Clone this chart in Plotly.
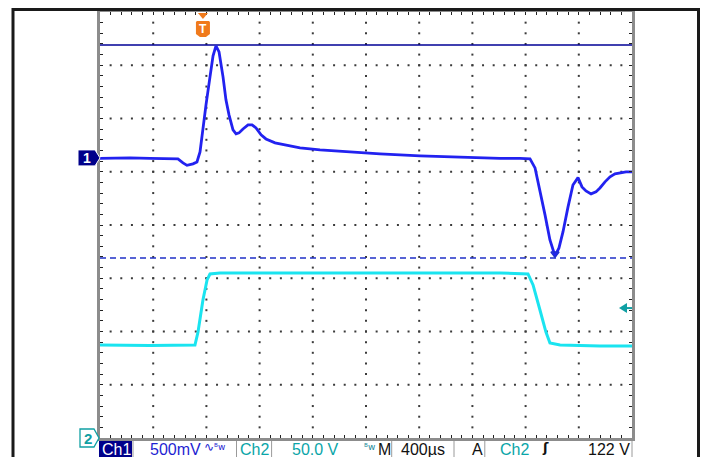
import plotly.graph_objects as go

# ---------------- figure / screen geometry ----------------
W, H = 702, 457
GX0, GX1, GY0, GY1 = 100, 632, 12, 438      # graticule box in pixels

# ---------------- scope settings ----------------
TIME_PER_DIV = 400.0      # µs / div
N_XDIV, N_YDIV = 10, 8
CH1_VDIV = 0.5            # V / div
CH2_VDIV = 50.0           # V / div
CH1_OFFSET_DIV = 1.26     # ch1 ground marker position (div)
CH2_OFFSET_DIV = -4.0     # ch2 ground marker position (div)
TRIG_TIME = 774.0         # µs from left edge
TRIG_LEVEL = 122.0        # V on ch2

# ---------------- data ----------------
ch1_time = [0, 226, 376, 526, 586, 624, 654, 699, 729, 752, 774, 797, 827, 850, 872,
            895, 925, 947, 970, 1000, 1023, 1045, 1075, 1113, 1143, 1173, 1211, 1248,
            1316, 1414, 1504, 1654, 1880, 2105, 2406, 2707, 3008, 3158, 3233, 3271,
            3308, 3346, 3383, 3421, 3451, 3481, 3519, 3556, 3594, 3624, 3654, 3692,
            3729, 3759, 3797, 3835, 3872, 3910, 3955, 4000]
ch1_volts = [-0.005, 0.0, -0.005, -0.005, -0.009, -0.047, -0.070, -0.056, -0.038, 0.056,
             0.282, 0.498, 0.761, 0.958, 1.052, 0.995, 0.761, 0.545, 0.404, 0.263,
             0.225, 0.235, 0.272, 0.310, 0.310, 0.282, 0.216, 0.178, 0.141, 0.113,
             0.094, 0.075, 0.056, 0.038, 0.019, 0.005, -0.005, -0.005, -0.009, -0.094,
             -0.300, -0.535, -0.770, -0.920, -0.845, -0.695, -0.460, -0.254, -0.185,
             -0.272, -0.310, -0.338, -0.319, -0.282, -0.225, -0.178, -0.150, -0.141,
             -0.131, -0.131]

ch2_time = [0, 376, 714, 737, 774, 805, 827, 902, 1504, 2256, 3008, 3218, 3256, 3308,
            3353, 3383, 3459, 3759, 4000]
ch2_volts = [87.3, 86.9, 87.3, 99.5, 129.6, 148.4, 154.0, 154.9, 154.9, 154.9, 154.9,
             154.0, 143.7, 120.2, 99.5, 89.2, 87.3, 86.4, 86.4]

cursor_volts = [1.06, -0.94]     # ch1 horizontal cursors (V)

status_items = [
    ("500mV", 149, "#1f1fd2"), ("Ch2", 238.5, "#0aa5a8"), ("50.0 V", 291, "#0aa5a8"),
    ("M", 377, "#111111"), ("400µs", 400, "#111111"), ("A", 471, "#111111"),
    ("Ch2", 499, "#0aa5a8"), ("122 V", 587, "#111111"),
]
separators = [133, 236.5, 271.6, 391.7, 454, 484.8, 632]

CH1_COLOR = "#2222f0"
CH2_COLOR = "#1ae4f0"
TEAL = "#10a0a4"
NAVY = "#00008a"
ORANGE = "#f07a1c"
FONT = "Liberation Sans"

# ---------------- helpers ----------------
def px(x):
    return x / W

def py(y):
    return 1 - y / H

def to_div(v, vdiv, off):
    return [val / vdiv + off for val in v]

YDOM = [py(GY1), py(GY0)]

def div_to_paper(d):
    return YDOM[0] + (d + N_YDIV / 2) / N_YDIV * (YDOM[1] - YDOM[0])

XMAX = TIME_PER_DIV * N_XDIV

fig = go.Figure()

# graticule dots (5 per division along every grid line)
gx, gy = [], []
for k in range(1, N_XDIV):
    for j in range(1, N_YDIV * 5):
        gx.append(k * TIME_PER_DIV)
        gy.append(-N_YDIV / 2 + j * 0.2)
for k in range(1, N_YDIV):
    for i in range(1, N_XDIV * 5):
        gx.append(i * TIME_PER_DIV / 5)
        gy.append(-N_YDIV / 2 + k)
fig.add_trace(go.Scatter(x=gx, y=gy, mode="markers", hoverinfo="skip",
                         marker=dict(symbol="square", size=2, color="#3a3a3a",
                                     line=dict(width=0))))

# cursors
cdiv = to_div(cursor_volts, CH1_VDIV, CH1_OFFSET_DIV)
fig.add_trace(go.Scatter(x=[0, XMAX], y=[cdiv[0]] * 2, mode="lines",
                         line=dict(color="#000096", width=1.6)))
fig.add_trace(go.Scatter(x=[0, XMAX], y=[cdiv[1]] * 2, mode="lines",
                         line=dict(color="#2030c8", width=1.4, dash="6px,4px")))

# channel traces
fig.add_trace(go.Scatter(x=ch2_time, y=to_div(ch2_volts, CH2_VDIV, CH2_OFFSET_DIV),
                         mode="lines", line=dict(color=CH2_COLOR, width=3)))
fig.add_trace(go.Scatter(x=ch1_time, y=to_div(ch1_volts, CH1_VDIV, CH1_OFFSET_DIV),
                         mode="lines", line=dict(color=CH1_COLOR, width=2.8)))

# cursor marker at ch1 minimum
imin = min(range(len(ch1_volts)), key=lambda i: ch1_volts[i])
fig.add_trace(go.Scatter(x=[ch1_time[imin]], y=[cdiv[1] + 0.08], mode="markers",
                         marker=dict(symbol="triangle-down-open", size=7,
                                     color="#2030d0", line=dict(width=1.5))))

shapes = []
annotations = []


def label(x, y, text, color, size, xref="paper", yref="paper", xanchor="left",
          family=FONT, pad=1):
    annotations.append(dict(x=x, y=y, xref=xref, yref=yref, text=text,
                            xanchor=xanchor, yanchor="middle", showarrow=False,
                            borderpad=pad, font=dict(color=color, size=size, family=family)))


# outer frame
shapes.append(dict(type="line", xref="paper", yref="paper", x0=px(13), x1=px(13),
                   y0=py(8), y1=0, line=dict(color="#1a1a1a", width=3)))
shapes.append(dict(type="line", xref="paper", yref="paper", x0=px(12), x1=px(700),
                   y0=py(9.5), y1=py(9.5), line=dict(color="#1a1a1a", width=3)))
shapes.append(dict(type="line", xref="paper", yref="paper", x0=px(698.5), x1=px(698.5),
                   y0=py(8), y1=0, line=dict(color="#1a1a1a", width=3)))

# ch1 ground marker
c1 = div_to_paper(CH1_OFFSET_DIV)
shapes.append(dict(type="path", xref="paper", yref="paper", ysizemode="pixel",
                   yanchor=c1,
                   path=f"M{px(78)},-8 L{px(95)},-8 L{px(100)},0 L{px(95)},8 L{px(78)},8 Z",
                   fillcolor=NAVY, line=dict(color="white", width=1)))
label(px(86.5), c1, "<b>1</b>", "white", 14, xanchor="center")

# ch2 ground marker
c2 = div_to_paper(CH2_OFFSET_DIV)
shapes.append(dict(type="path", xref="paper", yref="paper", ysizemode="pixel",
                   yanchor=c2,
                   path=f"M{px(80)},-9 L{px(94)},-9 L{px(99)},0 L{px(94)},9 L{px(80)},9 Z",
                   fillcolor="white", line=dict(color=TEAL, width=1.3)))
label(px(88), c2, "<b>2</b>", TEAL, 15, xanchor="center")

# trigger time marker (T)
shapes.append(dict(type="path", xref="x", yref="paper", xsizemode="pixel",
                   xanchor=TRIG_TIME,
                   path=f"M-5,{py(13)} L5,{py(13)} L0,{py(19)} Z",
                   fillcolor=ORANGE, line=dict(width=0)))
shapes.append(dict(type="path", xref="x", yref="paper", xsizemode="pixel",
                   xanchor=TRIG_TIME,
                   path=(f"M-6,{py(21)} L6,{py(21)} L7,{py(22)} L7,{py(34)} L3,{py(37)} "
                         f"L-3,{py(37)} L-7,{py(34)} L-7,{py(22)} Z"),
                   fillcolor=ORANGE, line=dict(width=0)))
label(TRIG_TIME, py(29), "<b>T</b>", "white", 12, xref="x", xanchor="center")

# trigger level marker
tl = div_to_paper(TRIG_LEVEL / CH2_VDIV + CH2_OFFSET_DIV)
shapes.append(dict(type="path", xref="paper", yref="paper", ysizemode="pixel", yanchor=tl,
                   path=f"M{px(619)},0 L{px(627)},-5 L{px(627)},5 Z",
                   fillcolor=TEAL, line=dict(width=0)))
shapes.append(dict(type="line", xref="paper", yref="paper", x0=px(625), x1=px(632),
                   y0=tl, y1=tl, line=dict(color=TEAL, width=2)))

# status bar
shapes.append(dict(type="rect", xref="paper", yref="paper", x0=px(99), x1=px(132),
                   y0=py(441), y1=0, fillcolor=NAVY, line=dict(width=0)))
label(px(101), py(449.5), "Ch1", "white", 16, pad=0)
for txt, xl, col in status_items:
    label(px(xl), py(449.5), txt, col, 16, pad=0)
for xs in separators:
    shapes.append(dict(type="line", xref="paper", yref="paper", x0=px(xs), x1=px(xs),
                       y0=py(441), y1=0, line=dict(color="#9a9a9a", width=1)))
# small glyphs in status bar
label(px(202), py(447), "∿", "#1f1fd2", 12, family="DejaVu Sans")
label(px(212), py(447), "ᴮw", "#1f1fd2", 9, family="DejaVu Sans")
label(px(362), py(447), "ᴮw", "#1a8a9a", 9, family="DejaVu Sans")
label(px(541), py(447), "<b>ʃ</b>", "#111111", 13, family="DejaVu Sans", pad=0)

fig.update_layout(
    width=W, height=H, margin=dict(l=0, r=0, t=0, b=0),
    paper_bgcolor="white", plot_bgcolor="white", showlegend=False,
    shapes=shapes, annotations=annotations,
    xaxis=dict(domain=[px(GX0), px(GX1)], range=[0, XMAX], showgrid=False, zeroline=False,
               showticklabels=False, ticks="inside", ticklen=3, tickwidth=1,
               tickcolor="#222222", dtick=TIME_PER_DIV / 5, tick0=0,
               showline=True, linecolor="#8c8c8c", linewidth=3, mirror="ticks",
               fixedrange=True),
    yaxis=dict(domain=YDOM, range=[-N_YDIV / 2, N_YDIV / 2], showgrid=False,
               zeroline=False, showticklabels=False, ticks="inside", ticklen=3,
               tickwidth=1, tickcolor="#222222", dtick=0.2, tick0=0,
               showline=True, linecolor="#8c8c8c", linewidth=3, mirror="ticks",
               fixedrange=True),
)

fig.write_html("out.html", config={"displayModeBar": False},
               post_script="document.body.style.margin='0';")
